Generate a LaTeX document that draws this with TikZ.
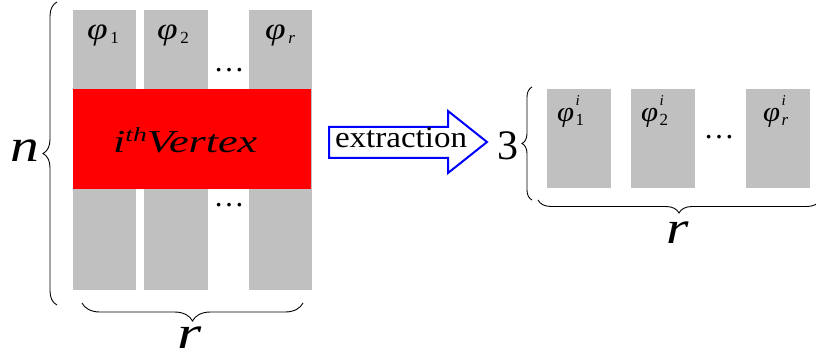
\documentclass[tikz,border=0pt]{standalone}
\usepackage{fontspec}
\usepackage{graphicx}
\setmainfont{Liberation Serif}[ItalicFont={Liberation Serif Italic}]
\usetikzlibrary{decorations.pathreplacing}
\newcommand{\fs}[1]{\fontsize{#1}{#1}\selectfont}
\newcommand{\phisub}[1]{\scalebox{1.2}[1]{\fs{31}\itshape φ}\kern2.5pt\raisebox{-4pt}{\fs{17}#1}}
\newcommand{\phisupsub}[1]{\scalebox{1.1}[1]{\fs{28}\itshape φ}\kern1.5pt\rlap{\raisebox{16pt}{\fs{15}\itshape i}}\raisebox{-4pt}{\fs{17}#1}}
\begin{document}
\begin{tikzpicture}[x=1pt,y=-1pt,
  lbl/.style={inner sep=0pt, anchor=base west},
  dotsnode/.style={inner sep=0pt, font=\fs{31}},
  bigital/.style={inner sep=0pt},
  bracepath/.style={decorate, line width=0.9pt, black},
]
\useasboundingbox (0,0) rectangle (816,358);
\definecolor{silv}{RGB}{192,192,192}
% left matrix columns
\fill[silv] (73,10) rectangle (136,290);
\fill[silv] (144,10) rectangle (208,290);
\fill[silv] (249,10) rectangle (312,290);
\node[lbl] (p1) at (87,40) {\phisub{1}};
\node[lbl] (p2) at (157,40) {\phisub{2}};
\node[lbl] (pr) at (265,40) {\phisub{\itshape r}};
\node[dotsnode] (d1) at (229,70) {…};
\node[dotsnode] (d2) at (229,205) {…};
% red band
\node[fill=red, minimum width=238pt, minimum height=100pt, inner sep=0pt] (vert) at (192,139) {};
\node[inner sep=0pt, anchor=base west] (vt) at (113,153) {\scalebox{1.38}[1]{\fs{32}\itshape i\raisebox{11pt}{\fs{20}th}Vertex}};
% left brace
\coordinate (lb1) at (57,305);
\coordinate (lb2) at (57,2);
\draw[bracepath, decoration={brace, amplitude=14pt}] (lb1) -- (lb2);
\node[bigital] (n) at (25,151) {\scalebox{1.25}[1]{\fs{46}\itshape n}};
% bottom brace
\coordinate (bb1) at (303,303);
\coordinate (bb2) at (82,303);
\draw[bracepath, decoration={brace, amplitude=18pt}] (bb1) -- (bb2);
\node[bigital] (r1) at (190,338) {\scalebox{1.35}[1]{\fs{46}\itshape r}};
% arrow
\draw[blue, line width=2pt, fill=white, line join=miter]
  (329,127) -- (448,127) -- (448,111) -- (487,142) -- (448,173) -- (448,158) -- (329,158) -- cycle;
\node[inner sep=0pt, anchor=base] (ex) at (401,148) {\scalebox{1.1}[1]{\fs{30}extraction}};
% right
\node[inner sep=0pt] (three) at (508,146) {\fs{42}3};
\coordinate (rb1) at (532,200);
\coordinate (rb2) at (532,87);
\draw[bracepath, decoration={brace, amplitude=10pt}] (rb1) -- (rb2);
\fill[silv] (547,89) rectangle (611,188);
\fill[silv] (631,89) rectangle (695,188);
\fill[silv] (746,89) rectangle (810,188);
\node[lbl] (q1) at (557,122) {\phisupsub{1}};
\node[lbl] (q2) at (641,122) {\phisupsub{2}};
\node[lbl] (qr) at (763,122) {\phisupsub{\itshape r}};
\node[dotsnode] (d3) at (719,137) {…};
\coordinate (sb1) at (820,200);
\coordinate (sb2) at (538,200);
\draw[bracepath, decoration={brace, amplitude=13pt}] (sb1) -- (sb2);
\node[bigital] (r2) at (678,233) {\scalebox{1.25}[1]{\fs{46}\itshape r}};
\end{tikzpicture}
\end{document}
